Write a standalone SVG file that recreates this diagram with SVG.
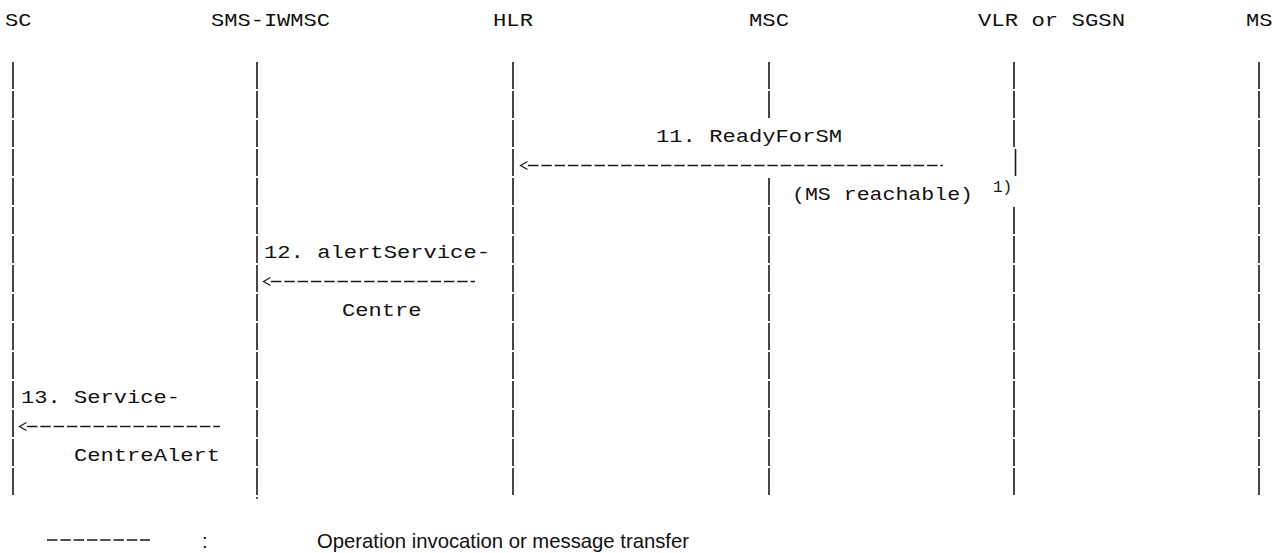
<svg xmlns="http://www.w3.org/2000/svg" width="1276" height="553" viewBox="0 0 1276 553">
<style>
  .mono { font-family: "Liberation Mono", "DejaVu Sans Mono", monospace; font-size: 19px; fill: #111; }
  .sup { font-family: "Liberation Mono", "DejaVu Sans Mono", monospace; font-size: 16px; fill: #111; }
  .sans { font-family: "Liberation Sans", Arial, sans-serif; font-size: 20.3px; fill: #111; }
  .life { stroke: #1a1a1a; stroke-width: 1.6; stroke-dasharray: 27 2; fill: none; }
  .msg { stroke: #1a1a1a; stroke-width: 1.3; stroke-dasharray: 10.5 2.8; fill: none; }
  .head { stroke: #1a1a1a; stroke-width: 1.2; fill: none; }
</style>
<rect width="1276" height="553" fill="#ffffff"/>

<g id="node-sc">
  <text class="mono" x="5" y="26" textLength="26.5" lengthAdjust="spacingAndGlyphs">SC</text>
  <line class="life" x1="13" y1="62" x2="13" y2="495"/>
</g>
<g id="node-sms-iwmsc">
  <text class="mono" x="211" y="26" textLength="119" lengthAdjust="spacingAndGlyphs">SMS-IWMSC</text>
  <line class="life" x1="257" y1="62" x2="257" y2="495"/>
  <line x1="257" y1="497" x2="257" y2="499" stroke="#1a1a1a" stroke-width="1.4"/>
</g>
<g id="node-hlr">
  <text class="mono" x="493" y="26" textLength="40" lengthAdjust="spacingAndGlyphs">HLR</text>
  <line class="life" x1="513" y1="62" x2="513" y2="495"/>
</g>
<g id="node-msc">
  <text class="mono" x="749" y="26" textLength="40" lengthAdjust="spacingAndGlyphs">MSC</text>
  <line class="life" x1="769" y1="62" x2="769" y2="118"/>
  <line class="life" x1="769" y1="178" x2="769" y2="495"/>
</g>
<g id="node-vlr-sgsn">
  <text class="mono" x="978" y="26" textLength="147" lengthAdjust="spacingAndGlyphs">VLR or SGSN</text>
  <line class="life" x1="1014" y1="62" x2="1014" y2="147"/>
  <line class="life" x1="1015.5" y1="149" x2="1015.5" y2="176"/>
  <line class="life" x1="1014" y1="207" x2="1014" y2="495"/>
</g>
<g id="node-ms">
  <text class="mono" x="1246" y="26" textLength="26.5" lengthAdjust="spacingAndGlyphs">MS</text>
  <line class="life" x1="1259" y1="62" x2="1259" y2="495"/>
</g>

<g id="connectors">
  <g id="msg-11">
    <line class="msg" x1="528" y1="165.5" x2="943" y2="165.5"/>
    <polyline class="head" points="527.5,161.5 520.5,165.5 527.5,169.5"/>
  </g>
  <g id="msg-12">
    <line class="msg" x1="271" y1="281.5" x2="475" y2="281.5"/>
    <polyline class="head" points="270.5,277.5 263.5,281.5 270.5,285.5"/>
  </g>
  <g id="msg-13">
    <line class="msg" x1="27" y1="426.5" x2="220" y2="426.5"/>
    <polyline class="head" points="26.5,422.5 19.5,426.5 26.5,430.5"/>
  </g>
</g>

<g id="labels">
  <text class="mono" x="656" y="142" textLength="186" lengthAdjust="spacingAndGlyphs">11. ReadyForSM</text>
  <text class="mono" x="792" y="200" textLength="181" lengthAdjust="spacingAndGlyphs">(MS reachable)</text>
  <text class="sup" x="993" y="192">1)</text>
  <text class="mono" x="264" y="258" textLength="226" lengthAdjust="spacingAndGlyphs">12. alertService-</text>
  <text class="mono" x="342" y="316" textLength="79.5" lengthAdjust="spacingAndGlyphs">Centre</text>
  <text class="mono" x="21" y="403" textLength="159" lengthAdjust="spacingAndGlyphs">13. Service-</text>
  <text class="mono" x="74" y="461" textLength="146" lengthAdjust="spacingAndGlyphs">CentreAlert</text>
</g>

<g id="legend">
  <line class="msg" x1="47" y1="540" x2="150" y2="540"/>
  <text class="sans" x="202" y="548">:</text>
  <text class="sans" x="317" y="548">Operation invocation or message transfer</text>
</g>
</svg>
